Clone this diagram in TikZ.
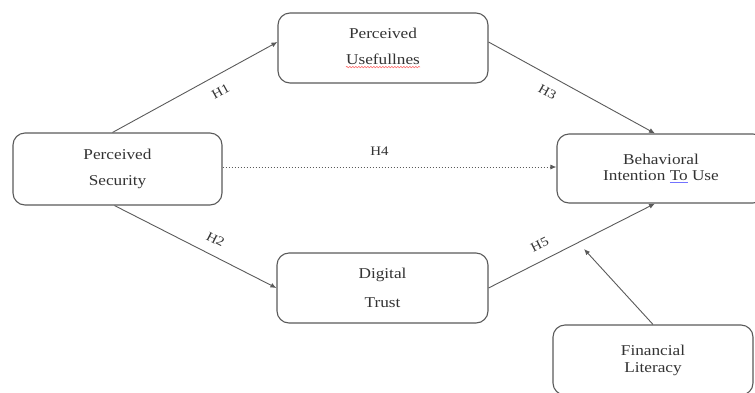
\documentclass[tikz,border=0pt]{standalone}
\usepackage{fontspec}
\setmainfont{Liberation Serif}[FakeStretch=1.15]
\usetikzlibrary{arrows.meta,decorations.pathmorphing}
\definecolor{txt}{HTML}{333333}
\definecolor{ln}{HTML}{5A5A5A}
\newcommand\bluline[1]{\textcolor{blue!55}{\underline{\textcolor{txt}{#1}}}}
\tikzset{
  box/.style={draw=ln, line width=1.1pt, rounded corners=12pt, fill=white, align=center, text=txt, inner sep=0pt},
  lbl/.style={text=txt, inner sep=0pt, font=\fontsize{15}{15}\selectfont},
  conn/.style={draw=ln, line width=0.9pt, -{Latex[length=6pt,width=5pt]}},
  hlab/.style={text=txt, font=\fontsize{13}{13}\selectfont, sloped, inner sep=2pt}
}
\begin{document}
\begin{tikzpicture}[x=1pt,y=-1pt]
\useasboundingbox (0,0) rectangle (755,392);
% boxes
\node[box, minimum width=209pt, minimum height=72pt, font=\fontsize{15}{26}\selectfont] (ps) at (117.5,169) {Perceived\\Security};
\node[box, minimum width=210pt, minimum height=70pt] (pu) at (383,48) {};
\node[lbl] (pu1) at (383,33) {Perceived};
\node[lbl] (pu2) at (383,59) {Usefullnes};
\draw[red!65, line width=0.5pt, decorate, decoration={snake, amplitude=0.7pt, segment length=3pt}] ([yshift=-2.5pt]pu2.south west) -- ([yshift=-2.5pt]pu2.south east);
\node[box, minimum width=208pt, minimum height=69pt, font=\fontsize{15}{16.5}\selectfont] (biu) at (661,168.5) {Behavioral\\Intention \bluline{To} Use};
\node[box, minimum width=211pt, minimum height=70pt, font=\fontsize{15}{29}\selectfont] (dt) at (382.5,288) {Digital\\Trust};
\node[box, minimum width=200pt, minimum height=70pt, font=\fontsize{15}{17}\selectfont] (fl) at (653,360) {Financial\\Literacy};
% connectors
\draw[conn] ([xshift=-5pt]ps.north) -- node[hlab, below=9pt, pos=0.61]{H1} ([yshift=6pt]pu.west);
\draw[conn] ([xshift=-3pt]ps.south) -- node[hlab, above=9pt, pos=0.58]{H2} (dt.west);
\draw[conn] ([yshift=6pt]pu.east) -- node[hlab, below=9pt, pos=0.40]{H3} ([xshift=-6pt]biu.north);
\draw[conn, dash pattern=on 1.5pt off 1.5pt] ([yshift=2pt]ps.east) -- node[text=txt, font=\fontsize{13}{13}\selectfont, above=8pt, pos=0.47]{H4} ([yshift=1.5pt]biu.west);
\draw[conn] (dt.east) -- node[hlab, above=9pt, pos=0.35]{H5} ([xshift=-6pt]biu.south);
\coordinate (mod) at (584,249);
\draw[conn] (fl.north) -- (mod);
\end{tikzpicture}
\end{document}
